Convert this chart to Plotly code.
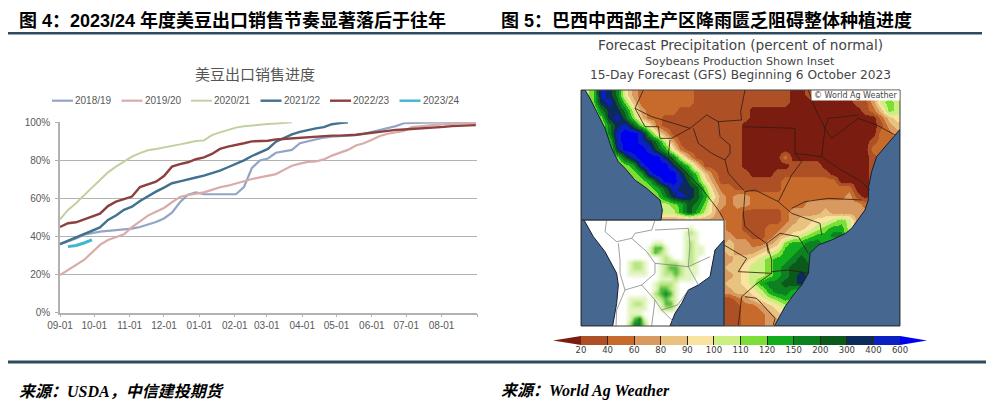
import pandas as pd
import plotly.graph_objects as go

W, H = 998, 409

# ---------- left chart data (weekly, % of export sales) ----------
WEEKS = pd.date_range("2022-09-01", periods=53, freq="7D")
MONTH_TICKS = ["2022-09-01", "2022-10-01", "2022-11-01", "2022-12-01", "2023-01-01", "2023-02-01",
               "2023-03-01", "2023-04-01", "2023-05-01", "2023-06-01", "2023-07-01", "2023-08-01", "2023-09-01"]
MONTH_LABELS = ["09-01", "10-01", "11-01", "12-01", "01-01", "02-01", "03-01", "04-01", "05-01", "06-01", "07-01", "08-01", ""]
PCT_TICKS = [0, 20, 40, 60, 80, 100]
PCT_LABELS = ["0%", "20%", "40%", "60%", "80%", "100%"]

S_2018_19 = [36, 37.5, 39, 41, 42, 42.6, 43, 43.3, 43.8, 44.2, 45, 46.3, 47.6, 49.5, 52.5, 58, 62, 63.2, 62.2, 62.2,
             62.2, 62.2, 62.2, 66, 76, 80, 81, 84, 84.8, 85.5, 89, 90, 91, 92, 92.4, 92.7, 93, 93.3, 94, 95,
             96, 97, 98, 99.5, 99.7, 99.8, 99.9, 100, 100, 100, 100, 100, 100]
S_2019_20 = [19.8, 22.4, 24.9, 27.7, 31.6, 35.6, 38.2, 39.5, 41.2, 44.9, 47.9, 51, 53, 55, 58, 60.8, 61.8, 62.7, 63.2, 64.5,
             65.9, 66.7, 68, 69.2, 70.2, 71.1, 72, 72.8, 75, 77.2, 78.3, 79.2, 79.4, 80.5, 82.5, 84, 85.5, 87.8, 89, 90.8,
             92.8, 94, 94.8, 95.5, 97.5, 98, 98.3, 98.6, 99, 99.2, 99.4, 99.5, 99.6]
S_2020_21 = [49, 54, 57.5, 61.8, 65.7, 69.7, 73.7, 76.7, 79.3, 82, 83.8, 85.3, 86, 86.7, 87.6, 88.4, 89.3, 90.2, 90.5, 93.3,
             94.7, 96, 97.2, 97.9, 98.4, 98.6, 99.1, 99.4, 99.7, 100]
S_2021_22 = [36, 37.7, 39.4, 41, 43, 44.8, 48.7, 51, 54, 55.7, 58.7, 61.3, 63.6, 65.7, 68, 69, 70.2, 71, 72, 73.2,
             74.6, 76.4, 78, 80, 82.3, 84, 86, 89.8, 91.6, 93.7, 95, 96, 96.8, 97.5, 99, 99.6, 100]
S_2022_23 = [45, 47, 47.5, 49, 50.6, 52, 56, 58.3, 59.7, 61, 66, 67.4, 68.8, 71.8, 76.7, 78, 79, 80.6, 81.6, 83.4,
             86, 87.2, 88, 89, 90, 90.2, 90.3, 91, 91.3, 91.6, 92, 92, 92.3, 92.6, 93, 93, 93.2, 93.5, 94, 94.5,
             95, 95.7, 96, 96.2, 96.4, 96.7, 97, 97.3, 97.6, 98, 98.2, 98.4, 98.5]
S_2023_24 = [None, 34.7, 35.3, 36.6, 38.2]

SERIES_NAMES = ["2018/19", "2019/20", "2020/21", "2021/22", "2022/23", "2023/24"]
SERIES_VALUES = [S_2018_19, S_2019_20, S_2020_21, S_2021_22, S_2022_23, S_2023_24]
SERIES_COLORS = ["#93a5c6", "#d9aba9", "#c0d09f", "#42708f", "#8c4040", "#3fb7cf"]
SERIES_WIDTHS = [2.2, 2.2, 2.0, 2.4, 2.4, 3.0]

# ---------- precipitation map: class letters ----------
LEVEL_LABELS = ["20", "40", "60", "80", "90", "100", "110", "120", "150", "200", "300", "400", "600"]
CLASS_COLORS = ["#7a1d10", "#ad5026", "#c76b2c", "#d89a60", "#e8c27f", "#f8e3a0", "#cdee82",
                "#7ddf35", "#12ad1c", "#0d8022", "#0b5a1b", "#0c2a5a", "#0a20c0", "#0000f0"]
MAP_ROWS = [
    "ghmljfd" + "c"*7 + "b"*12 + "aa" + "b"*8 + "dfgf",
    "ghlmkhe" + "c"*7 + "b"*12 + "a"*8 + "bb" + "dghg",
    "ggjlljgd" + "c"*4 + "b"*9 + "a"*14 + "bcehg",
    "gghlmkhecc" + "b"*11 + "a"*16 + "cef",
    "gggjlmkhfc" + "b"*10 + "a"*17 + "bde",
    "gggjmnnmifd" + "b"*9 + "a"*17 + "ccd",
    "ggghmnnmljgd" + "b"*8 + "a"*16 + "bccd",
    "gggglnnnmkifc" + "b"*7 + "a"*16 + "ccdd",
    "gggghkmnnnljgd" + "b"*6 + "a"*5 + "c" + "a"*10 + "bcdd",
    "ggggghimnnnljhe" + "b"*5 + "a"*6 + "bbbb" + "a"*6 + "bcdd",
    "gggggghimnnnljhec" + "b"*4 + "aaa" + "b"*7 + "a"*5 + "bddd",
    "ggggggghilnnmkifd" + "b"*8 + "c"*7 + "aaaa" + "bddd",
    "gggggggghikmllkhecc" + "b"*6 + "c"*9 + "aaa" + "cdd",
    "ggggggggghjlmlkifdcdd" + "c"*12 + "dbabddd",
    "ggggggggggghikjhedcdd" + "c"*7 + "d"*7 + "c" + "dddd",
    "gggggggggggg" + "ikige" + "ccc" + "b"*5 + "c" + "dddd" + "e" + "d"*9,
    "d"*18 + "cc" + "b"*5 + "c" + "d" + "ee" + "ff" + "ghg" + "d"*6,
    "d"*18 + "cc" + "bbb" + "cc" + "d" + "ee" + "fgh" + "ii" + "g" + "d"*6,
    "d"*19 + "cc" + "bb" + "c" + "defgh" + "ii" + "jj" + "g" + "d"*6,
    "d"*18 + "edd" + "cc" + "de" + "hii" + "jj" + "i" + "g"*9,
    "d"*18 + "eddd" + "efg" + "ii" + "jj" + "i" + "g"*10,
    "d"*19 + "ee" + "fgh" + "ii" + "jkj" + "g"*11,
    "d"*18 + "ee" + "fgghijkkk" + "g"*11,
    "d"*19 + "efgghijklk" + "g"*11,
    "d"*18 + "eefgijjkklk" + "g"*11,
    "d"*19 + "eefgijjih" + "g"*12,
    "b"*19 + "cdefghih" + "g"*13,
    "b"*20 + "ccdef" + "g"*15,
    "b"*20 + "cccde" + "f"*15,
    "b"*20 + "cccdd" + "e"*15,
]
INSET_ROWS = [
    "0"*28,
    "0"*21 + "1" + "0"*6,
    "0"*20 + "121" + "0"*5,
    "0"*20 + "111" + "0"*5,
    "0"*14 + "11" + "0"*4 + "121" + "0"*5,
    "0"*13 + "1331" + "000" + "1211" + "0"*4,
    "0"*13 + "1321" + "000" + "1211" + "0"*4,
    "0"*15 + "121" + "00" + "121" + "0"*5,
    "0"*9 + "1221" + "00" + "122211" + "21" + "0"*5,
    "0"*9 + "1221" + "00" + "123321" + "11" + "0"*5,
    "0"*9 + "1111" + "00" + "122321" + "11" + "0"*5,
    "0"*15 + "111211" + "1" + "0"*6,
    "0"*14 + "12221" + "0"*9,
    "0"*14 + "13321" + "0"*9,
    "0"*14 + "23431" + "0"*9,
    "0"*9 + "1111" + "0" + "12321" + "0"*9,
    "0"*9 + "1221" + "00" + "1331" + "0"*9,
    "0"*9 + "1111" + "00" + "1221" + "0"*9,
    "0"*9 + "111" + "0"*16,
    "0"*9 + "1341" + "0"*15,
    "0"*9 + "2442" + "0"*15,
]
INSET_COLORS = ["#ffffff", "#e2f5c0", "#b9e684", "#55bb40", "#0f8428"]

PACIFIC = [(12, 0), (27, 25), (47, 65), (72, 115), (92, 175), (112, 215), (132, 235), (162, 270), (197, 295),
           (237, 330), (244, 360), (240, 390), (0, 390), (0, 0), (12, 0)]
ATLANTIC = [(957, 118), (942, 135), (907, 175), (887, 200), (872, 245), (862, 295), (862, 330), (852, 360),
            (812, 415), (794, 430), (752, 450), (712, 465), (687, 490), (682, 550), (662, 585), (637, 615),
            (612, 650), (582, 705), (580, 708), (957, 708), (957, 118)]
INSET_WEST = [(9, 390), (37, 440), (72, 485), (107, 550), (112, 585), (107, 640), (95, 708), (0, 708), (0, 390), (9, 390)]
INSET_EAST = [(429, 450), (402, 480), (387, 560), (352, 585), (322, 600), (302, 640), (282, 670), (267, 708), (429, 708), (429, 450)]

BORDERS = [
    [(187, 0), (162, 55), (212, 80), (282, 100), (327, 115), (377, 75), (412, 95), (482, 90), (479, 65), (492, 0)],
    [(162, 55), (192, 110), (232, 110), (237, 145), (272, 145), (327, 115)],
    [(337, 115), (352, 160), (392, 190), (432, 210), (442, 250), (492, 305), (487, 375), (492, 410), (527, 440), (557, 460), (562, 490)],
    [(412, 95), (417, 140), (447, 165), (447, 190), (432, 210)],
    [(267, 150), (262, 195), (312, 245), (362, 295), (412, 360), (429, 390)],
    [(492, 305), (522, 300), (572, 325), (592, 335), (632, 255), (662, 215), (642, 190), (642, 115), (487, 110)],
    [(642, 190), (722, 200), (732, 115), (742, 85), (832, 75)],
    [(682, 0), (702, 55), (732, 115), (752, 145), (832, 85), (887, 105), (942, 135)],
    [(722, 200), (772, 235), (842, 275), (867, 300)],
    [(632, 355), (672, 335), (742, 325), (842, 330)],
    [(592, 335), (632, 370), (717, 400), (722, 435)],
    [(557, 460), (597, 430), (652, 440), (682, 490)],
    [(429, 465), (497, 505), (472, 545), (572, 550), (572, 510), (557, 460)],
    [(572, 550), (522, 585), (482, 620), (472, 705)],
    [(492, 620), (527, 625), (582, 685), (577, 705)],
    [(572, 545), (622, 540), (682, 550)],
]
INSET_BORDERS = [
    [(77, 390), (72, 425), (107, 455), (152, 445), (197, 485), (222, 520), (222, 550), (182, 585), (222, 630), (242, 660)],
    [(152, 445), (162, 430), (212, 420), (222, 390)],
    [(222, 420), (322, 415), (327, 465), (322, 530), (352, 585)],
    [(112, 460), (117, 510), (117, 550), (132, 600), (107, 660), (105, 708)],
    [(222, 520), (322, 530), (387, 500)],
    [(182, 585), (132, 600)],
    [(242, 660), (290, 645), (322, 600)],
    [(222, 630), (212, 708)],
    [(242, 660), (290, 708)],
]


def fx(px):
    return px / W


def fy(px):
    return 1 - px / H


def band(colors):
    n = len(colors)
    scale = []
    for i, c in enumerate(colors):
        scale += [[i / n, c], [(i + 1) / n, c]]
    return scale


fig = go.Figure()

# left line chart
for name, vals, col, wid in zip(SERIES_NAMES, SERIES_VALUES, SERIES_COLORS, SERIES_WIDTHS):
    fig.add_trace(go.Scatter(x=WEEKS[:len(vals)], y=vals, name=name, mode="lines", showlegend=False,
                             line=dict(color=col, width=wid), xaxis="x", yaxis="y"))

# map
map_z = [["abcdefghijklmn".index(ch) for ch in row] for row in MAP_ROWS]
fig.add_trace(go.Heatmap(z=map_z, x0=12, dx=24, y0=12, dy=23.6, zmin=-0.5, zmax=13.5, zsmooth="best",
                         colorscale=band(CLASS_COLORS), showscale=False, hoverinfo="skip",
                         xaxis="x2", yaxis="y2"))
inset_z = [[int(ch) for ch in row] for row in INSET_ROWS]
fig.add_trace(go.Heatmap(z=inset_z, x0=7.66, dx=15.32, y0=397.6, dy=15.14, zmin=0, zmax=4, zsmooth="best",
                         colorscale=[[0, INSET_COLORS[0]], [0.25, INSET_COLORS[1]], [0.5, INSET_COLORS[2]],
                                     [0.75, INSET_COLORS[3]], [1, INSET_COLORS[4]]],
                         showscale=False, hoverinfo="skip", xaxis="x2", yaxis="y2"))
for poly in (PACIFIC, ATLANTIC, INSET_WEST, INSET_EAST):
    fig.add_trace(go.Scatter(x=[p[0] for p in poly], y=[p[1] for p in poly], mode="lines", fill="toself",
                             fillcolor="#466790", line=dict(color="#14202e", width=1), showlegend=False,
                             hoverinfo="skip", xaxis="x2", yaxis="y2"))
for seg in BORDERS:
    fig.add_trace(go.Scatter(x=[p[0] for p in seg], y=[p[1] for p in seg], mode="lines",
                             line=dict(color="#2e1a10", width=0.8), showlegend=False, hoverinfo="skip",
                             xaxis="x2", yaxis="y2"))
for seg in INSET_BORDERS:
    fig.add_trace(go.Scatter(x=[p[0] for p in seg], y=[p[1] for p in seg], mode="lines",
                             line=dict(color="#777777", width=0.7), showlegend=False, hoverinfo="skip",
                             xaxis="x2", yaxis="y2"))

# colour key
fig.add_trace(go.Heatmap(z=[list(range(1, 13))], x=[i + 0.5 for i in range(12)], y=[0], zmin=-0.5, zmax=13.5,
                         colorscale=band(CLASS_COLORS), showscale=False, hoverinfo="skip",
                         xaxis="x3", yaxis="y3"))

GRID = "#b2b2b2"
TICKTXT = "#595959"
fig.update_layout(
    width=W, height=H, margin=dict(l=0, r=0, t=0, b=0, autoexpand=False), paper_bgcolor="white", plot_bgcolor="white",
    showlegend=False,
    xaxis=dict(domain=[fx(60), fx(477)], range=["2022-09-01", "2023-09-01"], type="date",
               tickmode="array", tickvals=MONTH_TICKS, ticktext=MONTH_LABELS, ticks="outside", ticklen=3,
               tickcolor=GRID, linecolor=GRID, linewidth=1.5, showline=True, showgrid=False, zeroline=False,
               tickfont=dict(family="Liberation Sans", size=10, color=TICKTXT), anchor="y"),
    yaxis=dict(domain=[fy(312.7), fy(122.3)], range=[0, 100], tickmode="array", tickvals=PCT_TICKS,
               ticktext=PCT_LABELS, ticks="outside", ticklen=3, ticklabelstandoff=3, tickcolor=GRID, linecolor=GRID,
               linewidth=1.5, showline=True, gridcolor=GRID, gridwidth=1.4, zeroline=False,
               tickfont=dict(family="Liberation Sans", size=10, color=TICKTXT), anchor="x"),
    xaxis2=dict(domain=[fx(581), fx(900)], range=[0, 957], visible=False, anchor="y2"),
    yaxis2=dict(domain=[fy(326), fy(90)], range=[708, 0], visible=False, anchor="x2"),
    xaxis3=dict(domain=[fx(581), fx(900)], range=[0, 12], tickmode="array", tickvals=list(range(13)),
                ticktext=LEVEL_LABELS, ticks="inside", ticklen=9, tickcolor="#33241a", tickwidth=1, showgrid=False,
                ticklabelstandoff=-2, zeroline=False, showline=False,
                tickfont=dict(family="DejaVu Sans", size=8.5, color="#3a3a3a"), anchor="y3"),
    yaxis3=dict(domain=[fy(345), fy(336)], range=[-0.5, 0.5], visible=False, anchor="x3"),
)


def note(text, x, y, size, color="#000000", family="Noto Sans CJK SC", anchor="left"):
    fig.add_annotation(text=text, xref="paper", yref="paper", x=fx(x), y=fy(y), showarrow=False, xanchor=anchor,
                       yanchor="middle", align=anchor, font=dict(family=family, size=size, color=color),
                       borderpad=0, borderwidth=0)


HEAD = "Liberation Sans, Noto Sans CJK SC"
SERIF = "Liberation Serif, Noto Sans CJK SC"
note("<b>图 4：2023/24 年度美豆出口销售节奏显著落后于往年</b>", 19, 20, 18, family=HEAD)
note("<b>图 5：巴西中西部主产区降雨匮乏阻碍整体种植进度</b>", 501, 20, 18, family=HEAD)
note("美豆出口销售进度", 255, 73, 15, color="#555555", anchor="center")
note("Forecast Precipitation (percent of normal)", 740, 45, 13.7, color="#444444", family="DejaVu Sans", anchor="center")
note("Soybeans Production Shown Inset", 740, 61.5, 11.2, color="#444444", family="DejaVu Sans", anchor="center")
note("15-Day Forecast (GFS) Beginning 6 October 2023", 740, 75, 12.2, color="#444444", family="DejaVu Sans", anchor="center")
note("<b><i>来源：USDA，中信建投期货</i></b>", 19, 391, 16, family=SERIF)
note("<b><i>来源：World Ag Weather</i></b>", 501, 391, 16, family=SERIF)
note("© World Ag Weather", 855.5, 95.5, 8, color="#444444", family="DejaVu Sans", anchor="center")

RULE = "#2f4a5c"
shapes = [
    dict(type="line", xref="paper", yref="paper", x0=fx(8), x1=fx(982), y0=fy(33.3), y1=fy(33.3), line=dict(color=RULE, width=2.4)),
    dict(type="line", xref="paper", yref="paper", x0=fx(8), x1=fx(986), y0=fy(362), y1=fy(362), line=dict(color=RULE, width=3)),
    # map frame, inset frame and copyright box
    dict(type="rect", xref="paper", yref="paper", x0=fx(581), x1=fx(900), y0=fy(326), y1=fy(90), line=dict(color="#3c3c3c", width=1)),
    dict(type="line", xref="paper", yref="paper", x0=fx(581), x1=fx(724), y0=fy(220), y1=fy(220), line=dict(color="#3c4650", width=1)),
    dict(type="line", xref="paper", yref="paper", x0=fx(724), x1=fx(724), y0=fy(220), y1=fy(326), line=dict(color="#3c4650", width=1)),
    dict(type="rect", xref="paper", yref="paper", x0=fx(811.5), x1=fx(899.5), y0=fy(100.5), y1=fy(90.5), fillcolor="white", line=dict(width=0), layer="above"),
    # pointed ends of the colour key
    dict(type="path", xref="paper", yref="paper", layer="above", line=dict(width=0), fillcolor=CLASS_COLORS[0],
         path=f"M {fx(581)} {fy(336)} L {fx(553)} {fy(340.5)} L {fx(581)} {fy(345)} Z"),
    dict(type="path", xref="paper", yref="paper", layer="above", line=dict(width=0), fillcolor=CLASS_COLORS[13],
         path=f"M {fx(900)} {fy(336)} L {fx(927)} {fy(340.5)} L {fx(900)} {fy(345)} Z"),
]

# legend row: one short sample and one label per series
for i, (name, col, wid) in enumerate(zip(SERIES_NAMES, SERIES_COLORS, SERIES_WIDTHS)):
    x_start = 52 + 69.5 * i
    shapes.append(dict(type="line", xref="paper", yref="paper", x0=fx(x_start), x1=fx(x_start + 21),
                       y0=fy(100.7), y1=fy(100.7), line=dict(color=col, width=min(wid, 2.4))))
    note(name, x_start + 23, 100.7, 10, color=TICKTXT, family="Liberation Sans")

fig.update_layout(shapes=shapes)

fig.write_html("out.html", post_script="document.body.style.margin='0';", config={"displayModeBar": False})
